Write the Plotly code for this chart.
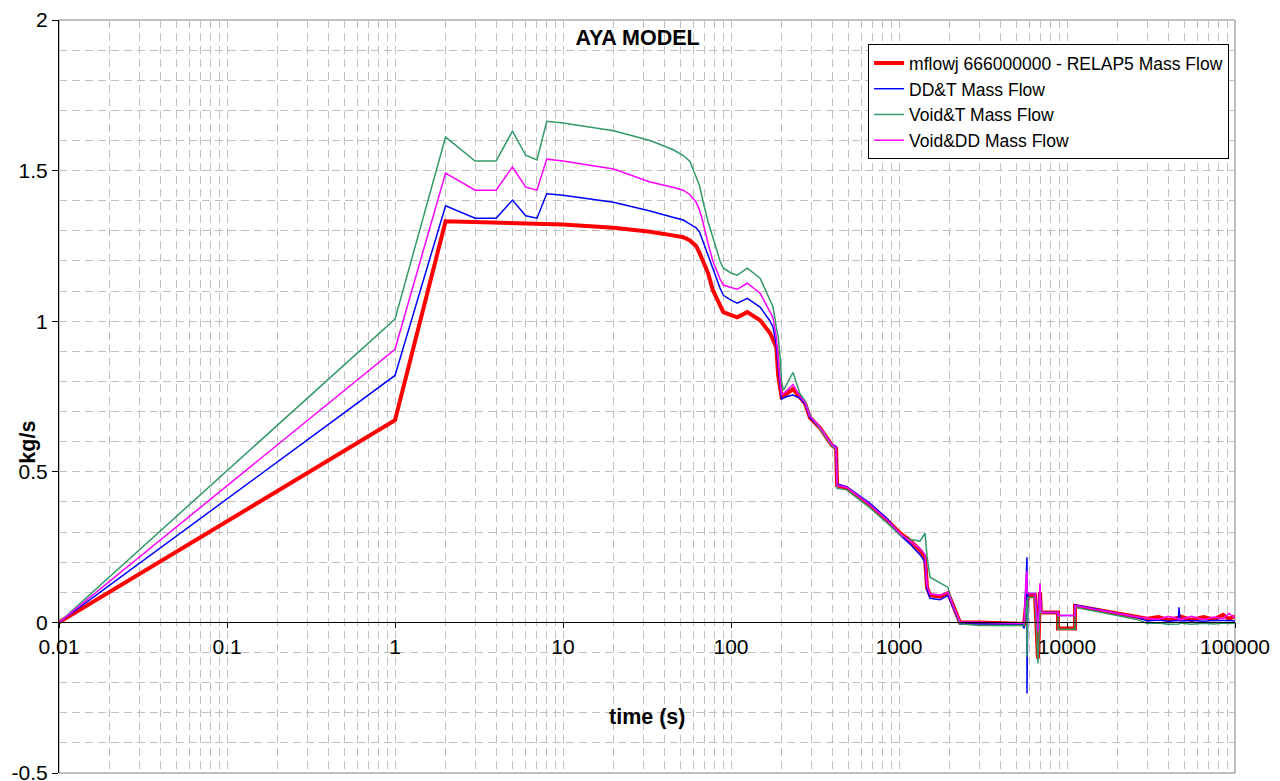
import plotly.graph_objects as go

# Temps (s) communs aux quatre séries
time_s = [
    0.01, 1, 2, 3, 4, 5, 6, 7, 8,
    10, 20, 33, 45, 52, 57, 62, 65, 68, 73, 78, 86, 90, 100, 109, 125, 149,
    171, 178, 186, 191, 196, 200, 205, 215, 234, 257, 276, 295,
    339, 399, 422, 428, 490, 562, 672, 849,
    1015, 1163, 1333, 1429, 1468, 1530, 1755, 1958, 2067, 2307, 3000,
    5395, 5560, 5700, 5780, 5780, 5850, 6450, 6720, 6905, 7000, 7194,
    8837, 8837, 11160, 11160, 26140,
    30000, 35000, 40000, 46000, 46400, 47000, 55000, 65000, 75000, 85000, 92000, 100000,
]

relap5 = [
    0, 0.671, 1.332, 1.330, 1.328, 1.327, 1.326, 1.325, 1.324,
    1.321, 1.31, 1.297, 1.285, 1.279, 1.268, 1.25, 1.226, 1.20, 1.16, 1.103, 1.05, 1.03, 1.02, 1.013, 1.03, 1.003,
    0.96, 0.94, 0.914, 0.82, 0.77, 0.748, 0.75, 0.758, 0.775, 0.748, 0.727, 0.68,
    0.645, 0.588, 0.578, 0.455, 0.445, 0.42, 0.389, 0.339,
    0.296, 0.272, 0.239, 0.215, 0.116, 0.09, 0.085, 0.098, 0.063, 0.0, 0.0,
    -0.005, -0.005, 0.06, 0.1, 0.05, 0.09, 0.09, -0.12, 0.1, 0.035, 0.033,
    0.033, -0.02, -0.02, 0.055, 0.017,
    0.012, 0.018, 0.008, 0.015, 0.01, 0.02, 0.008, 0.018, 0.01, 0.025, 0.012, 0.02,
]

dd_t = [
    0, 0.82, 1.383, 1.342, 1.342, 1.402, 1.35, 1.342, 1.423,
    1.418, 1.395, 1.366, 1.345, 1.336, 1.322, 1.31, 1.296, 1.265, 1.219, 1.17, 1.11, 1.086, 1.07, 1.06, 1.076, 1.047,
    1.0, 0.98, 0.92, 0.85, 0.78, 0.74, 0.745, 0.75, 0.755, 0.745, 0.725, 0.68,
    0.645, 0.59, 0.585, 0.46, 0.45, 0.425, 0.395, 0.345,
    0.29, 0.26, 0.225, 0.2, 0.11, 0.08, 0.075, 0.09, 0.06, -0.005, -0.005,
    -0.005, -0.02, 0.12, 0.216, -0.236, 0.096, 0.096, -0.02, 0.12, 0.04, 0.033,
    0.033, 0.023, 0.023, 0.058, 0.017,
    0.005, 0.008, 0.004, 0.006, 0.05, 0.005, 0.006, 0.004, 0.007, 0.005, 0.006, 0.005,
]

void_t = [
    0, 1.007, 1.611, 1.532, 1.532, 1.631, 1.551, 1.535, 1.664,
    1.658, 1.632, 1.6, 1.57, 1.55, 1.53, 1.48, 1.45, 1.40, 1.33, 1.279, 1.2, 1.176, 1.16, 1.153, 1.176, 1.143,
    1.07, 1.047, 0.98, 0.947, 0.88, 0.8, 0.77, 0.79, 0.83, 0.76, 0.735, 0.69,
    0.64, 0.585, 0.575, 0.445, 0.44, 0.415, 0.38, 0.33,
    0.29, 0.275, 0.27, 0.296, 0.22, 0.15, 0.13, 0.116, 0.065, -0.005, -0.01,
    -0.012, -0.01, 0.05, 0.075, -0.116, 0.083, 0.083, -0.136, 0.05, 0.033, 0.033,
    0.033, -0.023, -0.023, 0.05, 0.01,
    -0.004, -0.002, -0.006, -0.003, -0.005, -0.002, -0.006, -0.003, -0.005, -0.002, -0.004, -0.003,
]

void_dd = [
    0, 0.907, 1.492, 1.435, 1.435, 1.512, 1.445, 1.435, 1.538,
    1.532, 1.505, 1.462, 1.445, 1.435, 1.42, 1.395, 1.369, 1.33, 1.259, 1.2, 1.14, 1.12, 1.112, 1.106, 1.126, 1.093,
    1.03, 1.01, 0.947, 0.86, 0.8, 0.755, 0.76, 0.77, 0.79, 0.75, 0.73, 0.685,
    0.648, 0.59, 0.58, 0.455, 0.448, 0.422, 0.39, 0.34,
    0.295, 0.27, 0.245, 0.225, 0.12, 0.095, 0.09, 0.1, 0.065, 0.002, 0.0,
    -0.003, 0.0, 0.15, 0.17, 0.1, 0.096, 0.096, -0.03, 0.13, 0.04, 0.033,
    0.033, 0.023, 0.023, 0.056, 0.018,
    0.015, 0.01, 0.02, 0.012, 0.015, 0.008, 0.02, 0.01, 0.018, 0.012, 0.03, 0.015,
]

x_tick_vals = [0.01, 0.1, 1, 10, 100, 1000, 10000, 100000]
x_tick_text = ["0.01", "0.1", "1", "10", "100", "1000", "10000", "100000"]
y_tick_vals = [-0.5, 0, 0.5, 1, 1.5, 2]
y_tick_text = ["-0.5", "0", "0.5", "1", "1.5", "2"]

series = [
    ("mflowj 666000000 - RELAP5 Mass Flow", relap5, "#ff0000", 4),
    ("DD&T Mass Flow", dd_t, "#0000ff", 1.5),
    ("Void&T Mass Flow", void_t, "#339966", 1.5),
    ("Void&DD Mass Flow", void_dd, "#ff00ff", 1.5),
]

for name, vals, _, _ in series:
    assert len(vals) == len(time_s), name

FONT = "Liberation Sans, Arial, sans-serif"
GRID = "#c0c0c0"

fig = go.Figure()
for name, vals, color, width in series:
    fig.add_trace(go.Scatter(
        x=time_s, y=vals, mode="lines", name=name,
        line=dict(color=color, width=width),
    ))

fig.update_layout(
    width=1280, height=781,
    margin=dict(l=59, r=45, t=20, b=8),
    paper_bgcolor="white", plot_bgcolor="white",
    font=dict(family=FONT, color="black"),
    title=dict(
        text="<b>AYA MODEL</b>", x=0.492, xref="paper", xanchor="center",
        y=1 - 37 / 781, yanchor="middle", font=dict(size=21.5, family=FONT),
    ),
    xaxis=dict(
        type="log", range=[-2, 5],
        tickvals=x_tick_vals, ticktext=x_tick_text,
        anchor="free", position=0.2,  # axe des x à y = 0
        showline=True, linecolor="black", linewidth=1,
        ticks="outside", ticklen=5, tickcolor="black",
        tickfont=dict(size=21), ticklabeloverflow="allow",
        showgrid=True, gridcolor=GRID, griddash="8px,5px", gridwidth=1,
        minor=dict(dtick="D1", showgrid=True, gridcolor=GRID, griddash="8px,5px", ticks=""),
        zeroline=False, automargin=False,
    ),
    yaxis=dict(
        range=[-0.5, 2],
        tickvals=y_tick_vals, ticktext=y_tick_text,
        showline=True, linecolor="black", linewidth=1,
        ticks="outside", ticklen=6, tickcolor="black",
        tickfont=dict(size=21), ticklabeloverflow="allow",
        showgrid=True, gridcolor=GRID, griddash="8px,5px", gridwidth=1,
        minor=dict(dtick=0.1, showgrid=True, gridcolor=GRID, griddash="8px,5px"),
        zeroline=False, automargin=False,
    ),
    legend=dict(
        x=0.688, y=0.968, xanchor="left", yanchor="top",
        bgcolor="white", bordercolor="black", borderwidth=1,
        font=dict(size=17.5, family=FONT),
    ),
    shapes=[dict(
        type="rect", xref="paper", yref="paper", x0=0, x1=1, y0=0, y1=1,
        line=dict(color="#808080", width=1), layer="below",
    )],
    annotations=[
        dict(text="<b>time (s)</b>", x=0.5, y=0.0744, xref="paper", yref="paper",
             xanchor="center", yanchor="middle",
             showarrow=False, font=dict(size=21.5)),
        dict(text="<b>kg/s</b>", x=-0.0264, y=0.44, xref="paper", yref="paper",
             xanchor="center", yanchor="middle",
             showarrow=False, textangle=-90, font=dict(size=21.5)),
    ],
)

# pas de marge autour du graphique dans la page
fig.write_html(
    "out.html",
    config={"displayModeBar": False},
    post_script="document.body.style.margin='0';",
)
